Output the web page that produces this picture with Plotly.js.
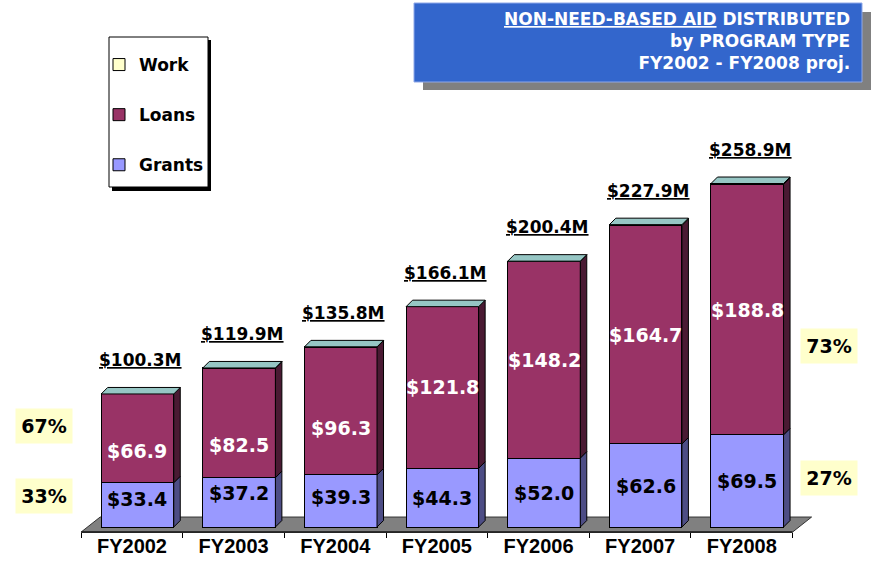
<!DOCTYPE html>
<html><head><meta charset="utf-8">
<script src="https://cdn.plot.ly/plotly-3.0.1.min.js"></script>
<style>html,body{margin:0;padding:0;background:#fff}</style>
</head><body><div id="chart" style="width:875px;height:566px"></div>
<script>
// ---------------- data ----------------
const categories = ['FY2002','FY2003','FY2004','FY2005','FY2006','FY2007','FY2008'];
const grants = [33.4, 37.2, 39.3, 44.3, 52.0, 62.6, 69.5];
const loans  = [66.9, 82.5, 96.3, 121.8, 148.2, 164.7, 188.8];
const work   = [0.0, 0.2, 0.2, 0.0, 0.2, 0.6, 0.6];
const totals = [100.3, 119.9, 135.8, 166.1, 200.4, 227.9, 258.9];
const seriesNames = ['Grants', 'Loans', 'Work'];
const titleLines = ['<u>NON-NEED-BASED AID</u> DISTRIBUTED', 'by PROGRAM TYPE', 'FY2002 - FY2008 proj.'];

// ---------------- style / layout constants ----------------
const W = 875, H = 566;
const M = {l: 71, r: 57, t: 129, b: 31};
const plotW = W - M.l - M.r, plotH = H - M.t - M.b;
const xRange = [-0.6, 6.75], yRange = [-6, 300];
const pxPerCat = plotW / (xRange[1] - xRange[0]);
const pxPerUnit = plotH / (yRange[1] - yRange[0]);
const barWidth = 0.714, barOffset = -0.303;
const depthPx = {dx: 6.5, dy: 6.5};
const floorPx = {front: 5, back: 10, dx: 19};
const colors = {grants: '#9999ff', grantsSide: '#4d4d85', loans: '#993366', loansSide: '#4a1a33',
                work: '#ffffcc', workSide: '#80806a', top: '#96c6c4', floor: '#808080'};
const grantNudge = [6, 9, 4, 0, 0, 0, 0];     // px upward nudges of value labels
const loanNudge  = [-13, -22, -17, 0, 0, 0, 0];
const BOLD_WIDE = 'DejaVu Sans';
const ARIAL = 'Arial, Liberation Sans, sans-serif';

const ddx = depthPx.dx / pxPerCat, ddy = depthPx.dy / pxPerUnit;
const px2x = px => (px - M.l) / plotW;          // paper x
const px2y = py => (H - M.b - py) / plotH;      // paper y

// ---------------- traces ----------------
const idx = categories.map((c, i) => i);
function barTrace(name, vals, color, rank) {
  return {type: 'bar', name: name, x: categories, y: vals, width: barWidth, offset: barOffset,
          marker: {color: color, line: {color: '#000', width: 1}}, legendgroup: name, legendrank: rank,
          hoverinfo: 'skip'};
}
const traces = [
  barTrace(seriesNames[0], grants, colors.grants, 3),
  barTrace(seriesNames[1], loans, colors.loans, 2),
  barTrace(seriesNames[2], work, colors.work, 1)
];

// ---------------- 3D faces (shapes in data coordinates) ----------------
const shapes = [];
const yF = -floorPx.front / pxPerUnit, yB = floorPx.back / pxPerUnit, fdx = floorPx.dx / pxPerCat;
shapes.push({type: 'path', xref: 'x', yref: 'y', layer: 'below',
  path: `M -0.5,${yF} L 6.5,${yF} L ${6.5 + fdx},${yB} L ${-0.5 + fdx},${yB} Z`,
  fillcolor: colors.floor, line: {color: '#333', width: 1}});
shapes.push({type: 'line', xref: 'x', yref: 'y', layer: 'below', x0: -0.5, x1: 6.5, y0: yF, y1: yF,
  line: {color: '#000', width: 1.2}});

idx.forEach(i => {
  const xl = i + barOffset, xr = xl + barWidth;
  const segs = [[0, grants[i], colors.grantsSide],
                [grants[i], grants[i] + loans[i], colors.loansSide],
                [grants[i] + loans[i], grants[i] + loans[i] + work[i], colors.workSide]];
  segs.forEach(([a, b, c]) => {
    if (b - a <= 0) return;
    shapes.push({type: 'path', xref: 'x', yref: 'y', layer: 'above',
      path: `M ${xr},${a} L ${xr + ddx},${a + ddy} L ${xr + ddx},${b + ddy} L ${xr},${b} Z`,
      fillcolor: c, line: {color: '#000', width: 1}});
  });
  const T = grants[i] + loans[i] + work[i];
  shapes.push({type: 'path', xref: 'x', yref: 'y', layer: 'above',
    path: `M ${xl},${T} L ${xr},${T} L ${xr + ddx},${T + ddy} L ${xl + ddx},${T + ddy} Z`,
    fillcolor: colors.top, line: {color: '#000', width: 1}});
});

// legend box + shadow (paper coordinates)
shapes.push({type: 'rect', xref: 'paper', yref: 'paper', layer: 'above',
  x0: px2x(112), x1: px2x(211), y0: px2y(191), y1: px2y(40), fillcolor: '#000', line: {width: 0}});
shapes.push({type: 'rect', xref: 'paper', yref: 'paper', layer: 'above',
  x0: px2x(109), x1: px2x(208), y0: px2y(187), y1: px2y(37), fillcolor: '#fff', line: {color: '#000', width: 1}});
// title box + shadow
shapes.push({type: 'rect', xref: 'paper', yref: 'paper', layer: 'above',
  x0: px2x(423), x1: px2x(871), y0: px2y(90), y1: px2y(12), fillcolor: '#808080', line: {width: 0}});
shapes.push({type: 'rect', xref: 'paper', yref: 'paper', layer: 'above',
  x0: px2x(414), x1: px2x(862), y0: px2y(82), y1: px2y(3), fillcolor: '#3366cc', line: {color: '#8fa8e8', width: 1}});

// ---------------- annotations ----------------
const annotations = [];
const barCenter = barOffset + barWidth / 2;
idx.forEach(i => {
  annotations.push({x: i + barCenter, y: totals[i], xref: 'x', yref: 'y', xshift: 3, yshift: 34,
    text: '<u>$' + totals[i].toFixed(1) + 'M</u>', showarrow: false, yanchor: 'middle',
    font: {family: BOLD_WIDE, size: 17, weight: 'bold', color: '#000'}});
  annotations.push({x: i + barCenter, y: grants[i] / 2, xref: 'x', yref: 'y', yshift: grantNudge[i],
    text: '$' + grants[i].toFixed(1), showarrow: false, yanchor: 'middle',
    font: {family: BOLD_WIDE, size: 19, weight: 'bold', color: '#000'}});
  annotations.push({x: i + barCenter, y: grants[i] + loans[i] / 2, xref: 'x', yref: 'y', yshift: loanNudge[i],
    text: '$' + loans[i].toFixed(1), showarrow: false, yanchor: 'middle',
    font: {family: BOLD_WIDE, size: 19, weight: 'bold', color: '#fff'}});
});
const first = 0, last = categories.length - 1;
const pct = (v, t) => Math.round(v / t * 100) + '%';
const pctLabel = (txt, cx, cy) => ({xref: 'paper', yref: 'paper', x: px2x(cx), y: px2y(cy),
  xanchor: 'center', yanchor: 'middle', text: txt, showarrow: false, width: 54, height: 32,
  bgcolor: '#ffffcc', borderpad: 1, align: 'center',
  font: {family: BOLD_WIDE, size: 19, weight: 'bold', color: '#000'}});
annotations.push(pctLabel(pct(loans[first], totals[first]), 44, 426));
annotations.push(pctLabel(pct(grants[first], totals[first]), 44, 496));
annotations.push(pctLabel(pct(loans[last], totals[last]), 829, 346));
annotations.push(pctLabel(pct(grants[last], totals[last]), 829, 478));
annotations.push({xref: 'paper', yref: 'paper', x: px2x(852), y: px2y(7), xanchor: 'right', yanchor: 'top',
  align: 'right', showarrow: false, text: titleLines.join('<br>'),
  font: {family: BOLD_WIDE, size: 17, weight: 'bold', color: '#fff'}});

// ---------------- layout ----------------
const layout = {
  width: W, height: H, margin: M, paper_bgcolor: '#fff', plot_bgcolor: 'rgba(0,0,0,0)',
  barmode: 'stack', showlegend: true,
  legend: {xref: 'paper', yref: 'paper', x: px2x(99), y: px2y(47), xanchor: 'left', yanchor: 'top',
           traceorder: 'grouped',
           bgcolor: 'rgba(0,0,0,0)', borderwidth: 0, tracegroupgap: 25,
           font: {family: BOLD_WIDE, size: 17, weight: 'bold', color: '#000'}},
  xaxis: {type: 'category', categoryarray: categories, range: xRange, anchor: 'free',
          position: (-floorPx.front / pxPerUnit - yRange[0]) / (yRange[1] - yRange[0]),
          tickson: 'boundaries', ticks: 'outside', ticklen: 5, tickcolor: '#000', tickwidth: 1,
          showline: false, showgrid: false, zeroline: false, fixedrange: true, automargin: false,
          tickfont: {family: ARIAL, size: 20, weight: 'bold', color: '#000'}},
  yaxis: {range: yRange, visible: false, fixedrange: true, automargin: false},
  shapes: shapes, annotations: annotations
};
Plotly.newPlot('chart', traces, layout, {displayModeBar: false, staticPlot: true});
</script></body></html>
